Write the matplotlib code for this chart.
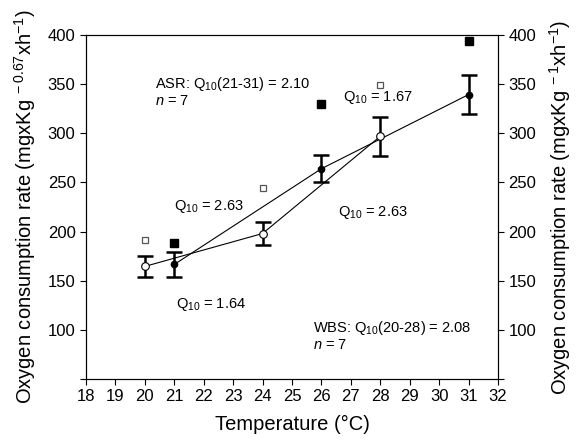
import matplotlib
matplotlib.use('Agg')
import matplotlib.pyplot as plt

plt.rcParams['font.family'] = ['Liberation Sans', 'DejaVu Sans']
plt.rcParams['mathtext.fontset'] = 'custom'
plt.rcParams['mathtext.rm'] = 'Liberation Sans'
plt.rcParams['mathtext.it'] = 'Liberation Sans:italic'

# WBS (open circles) mean +- error
wbs_temp = [20, 24, 28]
wbs_mean = [164.5, 198, 297]
wbs_err = [11, 11.5, 20]

# ASR (filled circles) mean +- error
asr_temp = [21, 26, 31]
asr_mean = [166.5, 264, 339.5]
asr_err = [13, 13.5, 20]

# squares
open_sq_temp = [20, 24, 28]
open_sq_val = [191.5, 244, 349]
fill_sq_temp = [21, 26, 31]
fill_sq_val = [188.5, 330, 394]

x_ticks = list(range(18, 33))
y_ticks = [50, 100, 150, 200, 250, 300, 350, 400]
y_labels = ['', '100', '150', '200', '250', '300', '350', '400']

fig = plt.figure(figsize=(5.77, 4.4), dpi=100)
ax = fig.add_axes([0.149, 0.139, 0.714, 0.781])

ax.plot(wbs_temp, wbs_mean, color='black', lw=0.8, zorder=2)
ax.plot(asr_temp, asr_mean, color='black', lw=0.8, zorder=2)
ax.errorbar(wbs_temp, wbs_mean, yerr=wbs_err, fmt='none', ecolor='black',
            elinewidth=1.8, capsize=6, capthick=1.8, zorder=3)
ax.errorbar(asr_temp, asr_mean, yerr=asr_err, fmt='none', ecolor='black',
            elinewidth=1.8, capsize=6, capthick=1.8, zorder=3)
ax.plot(wbs_temp, wbs_mean, 'o', ms=5.5, mfc='white', mec='black', mew=0.8, zorder=4)
ax.plot(asr_temp, asr_mean, 'o', ms=4.5, mfc='black', mec='black', zorder=4)
ax.plot(open_sq_temp, open_sq_val, 's', ms=5, mfc='white', mec='#555555', mew=0.9, zorder=4)
ax.plot(fill_sq_temp, fill_sq_val, 's', ms=5.5, mfc='black', mec='black', zorder=4)

ax.set_xlim(18, 32)
ax.set_ylim(50, 400)
ax.set_xticks(x_ticks)
ax.set_yticks(y_ticks)
ax.set_yticklabels(y_labels)
ax.tick_params(direction='out', length=4, labelsize=12)
ax.set_xlabel('Temperature (°C)', fontsize=14.5, labelpad=8)
ax.set_ylabel('Oxygen consumption rate (mgxKg$^{\\ -0.67}$xh$^{-1}$)', fontsize=14.5, labelpad=7)

ax2 = ax.twinx()
ax2.set_ylim(50, 400)
ax2.set_yticks(y_ticks)
ax2.set_yticklabels(y_labels)
ax2.tick_params(direction='out', labelsize=12, length=4)
ax2.set_ylabel('Oxygen consumption rate (mgxKg$^{\\ -1}$xh$^{-1}$)', fontsize=14.5, labelpad=8)

fs = 10.5
ax.text(20.35, 350, 'ASR: Q$_{10}$(21-31) = 2.10', fontsize=fs, va='center')
ax.text(20.35, 333, '$\\mathit{n}$ = 7', fontsize=fs, va='center')
ax.text(26.75, 337, 'Q$_{10}$ = 1.67', fontsize=fs, va='center')
ax.text(21.0, 226, 'Q$_{10}$ = 2.63', fontsize=fs, va='center')
ax.text(26.55, 219, 'Q$_{10}$ = 2.63', fontsize=fs, va='center')
ax.text(21.05, 126, 'Q$_{10}$ = 1.64', fontsize=fs, va='center')
ax.text(25.7, 102, 'WBS: Q$_{10}$(20-28) = 2.08', fontsize=fs, va='center')
ax.text(25.7, 84, '$\\mathit{n}$ = 7', fontsize=fs, va='center')

fig.savefig('out.png', dpi=100)
